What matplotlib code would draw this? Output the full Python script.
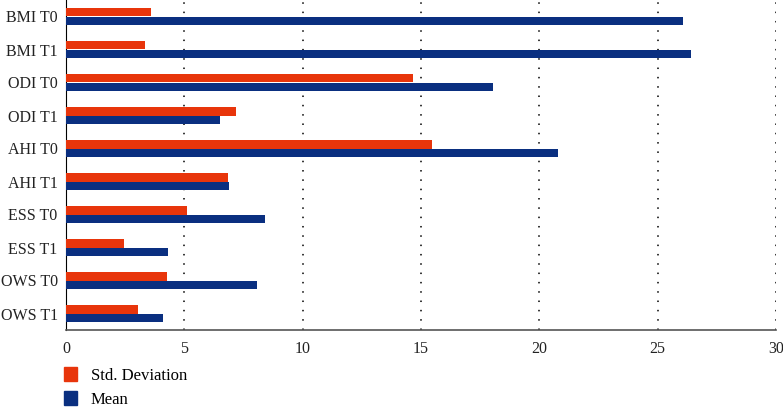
import numpy as np
import matplotlib.pyplot as plt
from matplotlib.patches import Patch

# values
labels = ['BMI T0', 'BMI T1', 'ODI T0', 'ODI T1', 'AHI T0',
          'AHI T1', 'ESS T0', 'ESS T1', 'OWS T0', 'OWS T1']
std_dev = [3.6, 3.35, 14.65, 7.2, 15.45, 6.85, 5.1, 2.45, 4.25, 3.05]
mean = [26.05, 26.4, 18.05, 6.5, 20.8, 6.9, 8.4, 4.3, 8.05, 4.1]
xticks = [0, 5, 10, 15, 20, 25, 30]

red = '#e8350b'
blue = '#0a2f80'

plt.rcParams['font.family'] = ['Liberation Serif', 'DejaVu Serif']

fig = plt.figure(figsize=(7.83, 4.07), dpi=100)
ax = fig.add_axes([66 / 783, 77 / 407, 710 / 783, 330 / 407])

y = np.arange(len(labels))
h = 0.27
ax.barh(y - h / 2, std_dev, height=h, color=red, zorder=3)
ax.barh(y + h / 2, mean, height=h, color=blue, zorder=3)

ax.set_ylim(len(labels) - 0.5, -0.5)
ax.set_xlim(0, 30)
ax.set_xticks(xticks)
ax.set_yticks(y)
ax.set_yticklabels(labels)
ax.tick_params(axis='both', length=0, labelsize=11.5, colors='#222222')
ax.tick_params(axis='x', pad=8)
ax.tick_params(axis='y', pad=6)

# dotted vertical grid, dots roughly 9 px apart
ax.grid(axis='x', linestyle=(0, (1, 5.1)), color='black', linewidth=1.1, zorder=0)
ax.spines['top'].set_visible(False)
ax.spines['right'].set_visible(False)
ax.spines['left'].set_color('black')
ax.spines['bottom'].set_color('#555555')
ax.spines['bottom'].set_linewidth(1.2)

handles = [Patch(color=red, label='Std. Deviation'), Patch(color=blue, label='Mean')]
fig.legend(handles=handles, loc='upper left', bbox_to_anchor=(64 / 783, 1 - 367 / 407),
           frameon=False, fontsize=12, handlelength=0.8, handleheight=0.9,
           handletextpad=0.8, labelspacing=0.45, borderpad=0, borderaxespad=0)

fig.savefig('out.png', dpi=100)
